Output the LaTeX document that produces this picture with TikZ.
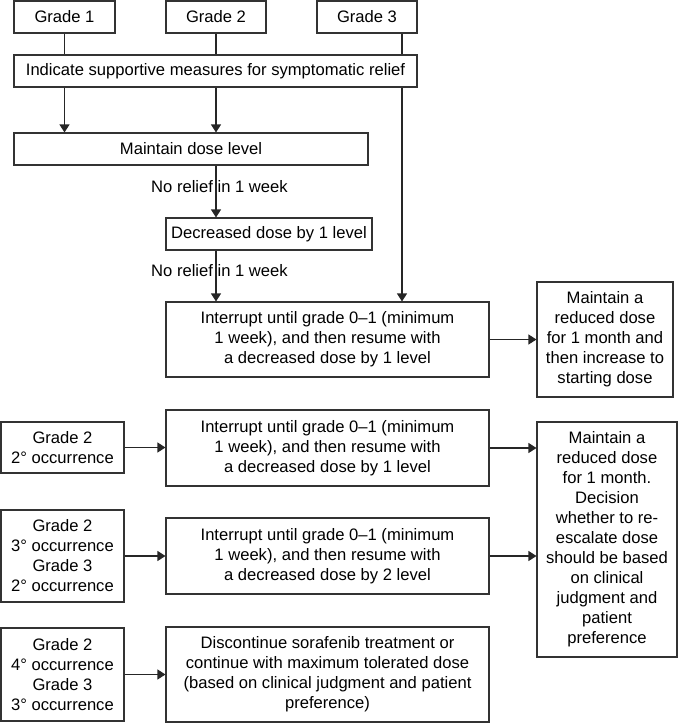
\documentclass[tikz,border=0pt]{standalone}
\usepackage{fontspec}
\setmainfont{Liberation Sans}
\usetikzlibrary{arrows.meta}
\begin{document}
\begin{tikzpicture}[x=1pt,y=-1pt,
 box/.style={draw=black!80,line width=1.1pt,inner sep=0pt,align=center,font=\fontsize{16.6}{20}\selectfont},
 arr/.style={draw=black!85,line width=1.1pt,-{Triangle[length=8pt,width=10pt]}},
 ln/.style={draw=black!85,line width=1.1pt},
 lab/.style={font=\fontsize{16.6}{20}\selectfont,inner sep=0pt}]
\useasboundingbox (0,0) rectangle (678,723);
% top boxes
\node[box,minimum width=101pt,minimum height=32pt] (g1) at (64.5,17) {Grade 1};
\node[box,minimum width=100pt,minimum height=32pt] (g2) at (216,17) {Grade 2};
\node[box,minimum width=100pt,minimum height=32pt] (g3) at (367,17) {Grade 3};
\node[box,minimum width=403pt,minimum height=32pt] (ind) at (215.5,71) {Indicate supportive measures for symptomatic relief};
\node[box,minimum width=354pt,minimum height=32pt] (main) at (191,149) {Maintain dose level};
\node[box,minimum width=206pt,minimum height=32pt] (dec) at (269,234) {Decreased dose by 1 level};
\node[box,minimum width=323pt,minimum height=75pt] (int1) at (327.5,339.5) {Interrupt until grade 0–1 (minimum\\1 week), and then resume with\\a decreased dose by 1 level};
\node[box,minimum width=136pt,minimum height=115pt] (r1) at (605,339.5) {Maintain a\\reduced dose\\for 1 month and\\then increase to\\starting dose};
% lower boxes
\node[box,minimum width=123pt,minimum height=51pt] (gg2) at (62.5,447.5) {Grade 2\\2° occurrence};
\node[box,minimum width=123pt,minimum height=92pt] (gg3) at (62.5,556) {Grade 2\\3° occurrence\\Grade 3\\2° occurrence};
\node[box,minimum width=123pt,minimum height=93pt] (gg4) at (62.5,674.5) {Grade 2\\4° occurrence\\Grade 3\\3° occurrence};
\node[box,minimum width=323pt,minimum height=76pt] (int2) at (327.5,448) {Interrupt until grade 0–1 (minimum\\1 week), and then resume with\\a decreased dose by 1 level};
\node[box,minimum width=323pt,minimum height=76pt] (int3) at (327.5,556) {Interrupt until grade 0–1 (minimum\\1 week), and then resume with\\a decreased dose by 2 level};
\node[box,minimum width=323pt,minimum height=95pt] (disc) at (327.5,674.5) {Discontinue sorafenib treatment or\\continue with maximum tolerated dose\\(based on clinical judgment and patient\\preference)};
\node[box,minimum width=140pt,minimum height=235pt] (r2) at (607,539.5) {Maintain a\\reduced dose\\for 1 month.\\Decision\\whether to re-\\escalate dose\\should be based\\on clinical\\judgment and\\patient\\preference};
% labels
\node[lab] (l1) at (219.5,187) {No relief in 1 week};
\node[lab] (l2) at (219.5,271) {No relief in 1 week};
% connectors
\draw[ln] (g1.south) -- (g1.south |- ind.north);
\draw[ln] (g2.south) -- (g2.south |- ind.north);
\coordinate (g3x) at ([xshift=35pt]g3.south);
\draw[ln] (g3x) -- (g3x |- ind.north);
\draw[arr] (g3x |- ind.south) -- (g3x |- int1.north);
\draw[arr] (g1.south |- ind.south) -- (g1.south |- main.north);
\draw[arr] (g2.south |- ind.south) -- (g2.south |- main.north);
\draw[arr] (g2.south |- main.south) -- (g2.south |- dec.north);
\draw[arr] (g2.south |- dec.south) -- (g2.south |- int1.north);
\draw[arr] (int1.east) -- (int1.east -| r1.west);
\draw[arr] (gg2.east) -- (gg2.east -| int2.west);
\draw[arr] (gg3.east) -- (gg3.east -| int3.west);
\draw[arr] (gg4.east) -- (gg4.east -| disc.west);
\draw[arr] (int2.east) -- (int2.east -| r2.west);
\draw[arr] (int3.east) -- (int3.east -| r2.west);
\end{tikzpicture}
\end{document}
